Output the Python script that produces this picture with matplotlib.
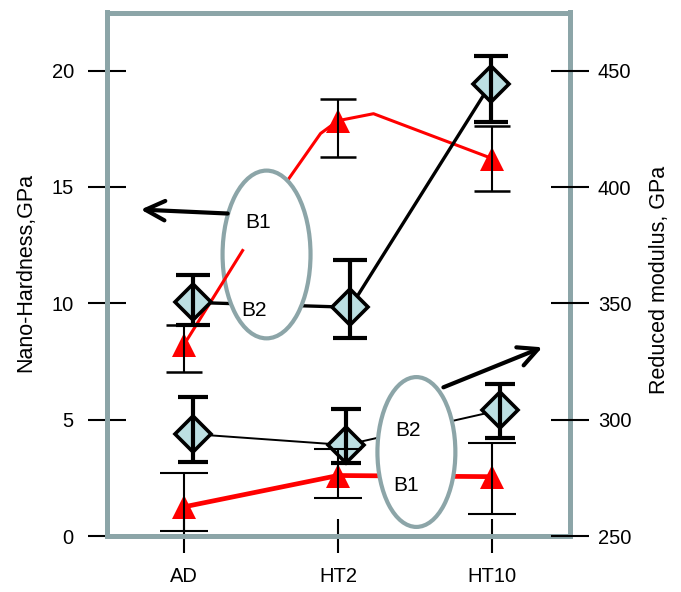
import matplotlib
matplotlib.use("Agg")
import matplotlib.pyplot as plt
import numpy as np
from matplotlib.patches import Ellipse

plt.rcParams['font.family'] = ['Liberation Sans', 'DejaVu Sans']

# 数据
categories = ["AD", "HT2", "HT10"]

# 纳米硬度 (左轴, GPa)
b1_hard = [1.25, 2.6, 2.55]
b1_hard_lo = [0.21, 1.63, 0.94]
b1_hard_hi = [2.70, 3.73, 3.99]

b2_hard = [4.38, 3.91, 5.41]
b2_hard_lo = [3.18, 3.13, 4.21]
b2_hard_hi = [5.97, 5.45, 6.52]
b2_hard_dx = [0.06, 0.05, 0.05]

# 折合模量 (右轴, GPa)
b1_mod = [332, 428.5, 412.2]
b1_mod_lo = [320.4, 412.7, 398.1]
b1_mod_hi = [340.6, 438.0, 426.4]
# 红线实际走向 (带拐点)
b1_mod_line_x = [0, 0.382, 0.673, 0.887, 1.0, 1.23, 2.0]
b1_mod_line_y = [332, 372.7, 402.8, 423.0, 428.5, 431.5, 412.2]

b2_mod = [350.4, 348.3, 444.4]
b2_mod_lo = [340.6, 335.0, 428.1]
b2_mod_hi = [362.0, 368.5, 456.4]
b2_mod_dx = [0.06, 0.08, -0.01]

GRAY = "#8ca5a8"
RED = "#ff0000"
FACE = "#bcdfe2"

fig = plt.figure(figsize=(6.81, 5.92), dpi=100)
ax = fig.add_axes([106.5 / 681, 1 - 536 / 592, 463 / 681, 523.5 / 592])
ax2 = ax.twinx()

x = np.arange(len(categories))


def err(vals, lo, hi):
    v = np.array(vals)
    return [v - np.array(lo), np.array(hi) - v]


# ---- 下部: 硬度 ----
xb2h = x + np.array(b2_hard_dx)
ax.plot(x, b1_hard, color=RED, lw=3.4, zorder=2)
ax.plot(xb2h, b2_hard, color="black", lw=1.4, zorder=2)
ax.plot(x, b1_hard, linestyle="none", marker="^", ms=17, color=RED, mew=0, zorder=3)
ax.plot(xb2h, b2_hard, linestyle="none", marker="D", ms=18, mfc=FACE, mec="black", mew=2.6, zorder=3)
ax.errorbar(x, b1_hard, yerr=err(b1_hard, b1_hard_lo, b1_hard_hi), fmt="none",
            ecolor="black", elinewidth=1.5, capsize=17, capthick=1.5, zorder=4)
ax.errorbar(xb2h, b2_hard, yerr=err(b2_hard, b2_hard_lo, b2_hard_hi), fmt="none",
            ecolor="black", elinewidth=3, capsize=11, capthick=3, zorder=4)

# ---- 上部: 模量 ----
xb2m = x + np.array(b2_mod_dx)
ax2.plot(b1_mod_line_x[1:], b1_mod_line_y[1:], color=RED, lw=2.2, zorder=1)
ax2.plot(b1_mod_line_x[:2], b1_mod_line_y[:2], color=RED, lw=2.2, zorder=3)
ax2.plot(xb2m, b2_mod, color="black", lw=2.4, zorder=1)
ax2.plot(x, b1_mod, linestyle="none", marker="^", ms=17, color=RED, mew=0, zorder=4)
ax2.plot(xb2m, b2_mod, linestyle="none", marker="D", ms=18, mfc=FACE, mec="black", mew=2.6, zorder=4)
ax2.errorbar(x, b1_mod, yerr=err(b1_mod, b1_mod_lo, b1_mod_hi), fmt="none",
             ecolor="black", elinewidth=1.5, capsize=13, capthick=1.8, zorder=5)
ax2.errorbar(xb2m, b2_mod, yerr=err(b2_mod, b2_mod_lo, b2_mod_hi), fmt="none",
             ecolor="black", elinewidth=3, capsize=12, capthick=3, zorder=5)

# 椭圆标注
ax2.add_patch(Ellipse((0.537, 371.0), 0.57, 72.1, facecolor="white", edgecolor=GRAY, lw=3, zorder=2))
ax2.add_patch(Ellipse((1.508, 286.1), 0.505, 64.4, facecolor="white", edgecolor=GRAY, lw=3, zorder=2))
for tx, ty, s in [(0.479, 384.8, "B1"), (0.453, 347.0, "B2"), (1.456, 295.5, "B2"), (1.443, 271.5, "B1")]:
    ax2.text(tx, ty, s, fontsize=15, ha="center", va="center", zorder=6)

# 箭头
ax2.annotate("", xy=(-0.278, 390.3), xytext=(0.285, 388.6),
             arrowprops=dict(arrowstyle="->,head_length=0.7,head_width=0.35", lw=3,
                             color="black", mutation_scale=20, shrinkA=0, shrinkB=0),
             zorder=6, annotation_clip=False)
ax2.annotate("", xy=(2.324, 331.1), xytext=(1.683, 313.9),
             arrowprops=dict(arrowstyle="->,head_length=0.7,head_width=0.35", lw=3,
                             color="black", mutation_scale=20, shrinkA=0, shrinkB=0),
             zorder=6, annotation_clip=False)

# 坐标轴
ax.set_xlim(-0.5, 2.5)
ax.set_ylim(0, 22.5)
ax2.set_ylim(250, 475)
ax.set_xticks(x)
ax.set_xticklabels(categories)
ax.set_yticks([0, 5, 10, 15, 20])
ax2.set_yticks([250, 300, 350, 400, 450])

ax.tick_params(axis="x", direction="inout", length=25, width=1.5, pad=10, labelsize=14.5)
ax.tick_params(axis="y", direction="inout", length=27, width=1.5, pad=10, labelsize=14.5)
ax2.tick_params(axis="y", direction="inout", length=27, width=1.5, pad=7, labelsize=14.5)

ax.set_ylabel("Nano-Hardness,GPa", fontsize=15.5, va="center")
ax.yaxis.set_label_coords(-0.174, 0.504)
ax2.set_ylabel("Reduced modulus, GPa", fontsize=15.5, va="center")
ax2.yaxis.set_label_coords(1.195, 0.489)

for sp in ax.spines.values():
    sp.set_color(GRAY)
    sp.set_linewidth(3.6)
    sp.set_capstyle("projecting")
for sp in ax2.spines.values():
    sp.set_visible(False)

fig.savefig("out.png", dpi=100, facecolor="white")
